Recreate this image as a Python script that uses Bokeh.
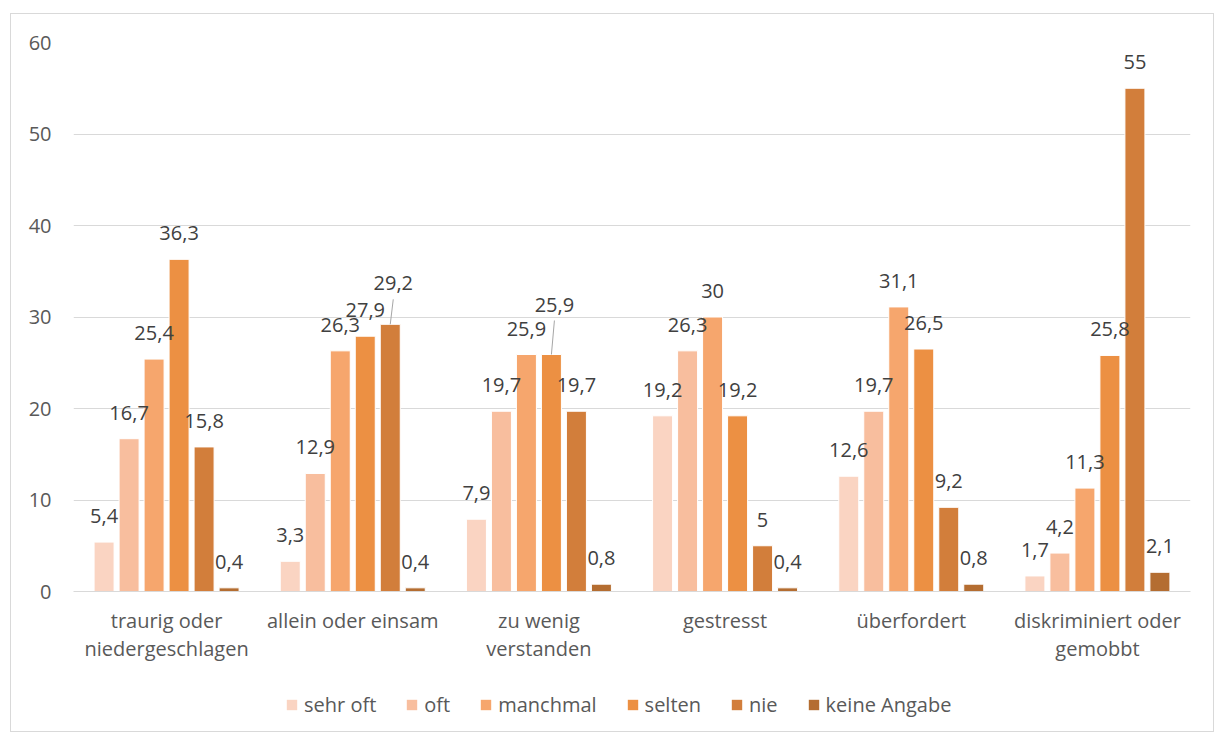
from bokeh.plotting import figure
from bokeh.layouts import column
from bokeh.models import FixedTicker, Legend, LegendItem, Range1d, ColumnDataSource
from bokeh.core.properties import value
from bokeh.embed import file_html
from bokeh.resources import INLINE

categories = ["traurig oder\nniedergeschlagen", "allein oder einsam", "zu wenig\nverstanden",
              "gestresst", "überfordert", "diskriminiert oder\ngemobbt"]
series = ["sehr oft", "oft", "manchmal", "selten", "nie", "keine Angabe"]
sehr_oft = [5.4, 3.3, 7.9, 19.2, 12.6, 1.7]
oft = [16.7, 12.9, 19.7, 26.3, 19.7, 4.2]
manchmal = [25.4, 26.3, 25.9, 30, 31.1, 11.3]
selten = [36.3, 27.9, 25.9, 19.2, 26.5, 25.8]
nie = [15.8, 29.2, 19.7, 5, 9.2, 55]
keine_angabe = [0.4, 0.4, 0.8, 0.4, 0.8, 2.1]
y_ticks = [0, 10, 20, 30, 40, 50, 60]

values = [sehr_oft, oft, manchmal, selten, nie, keine_angabe]
colors = ["#FAD4C2", "#F8BE9E", "#F6A66D", "#EC9043", "#D27E3B", "#B46D31"]

FONT = "Open Sans"
FS = "20px"
LEFT, RIGHT, TOP, BOTTOM = 62, 23, 28, 90
FW, FH = 1117, 549
px_per_unit = FH / 60.0
group_px = FW / 6.0

p = figure(frame_width=FW, frame_height=FH, output_backend="svg", toolbar_location=None,
           x_range=Range1d(0, 6), y_range=Range1d(0, 60),
           min_border_left=LEFT, min_border_right=RIGHT,
           min_border_top=TOP, min_border_bottom=BOTTOM)
p.outline_line_color = None
p.background_fill_color = "white"
p.border_fill_color = "white"

# grid
p.xgrid.grid_line_color = None
p.ygrid.grid_line_color = "#D9D9D9"
p.ygrid.grid_line_width = 1
p.ygrid.ticker = FixedTicker(ticks=y_ticks)

# y axis
p.yaxis.ticker = FixedTicker(ticks=y_ticks)
p.yaxis.axis_line_color = None
p.yaxis.major_tick_line_color = None
p.yaxis.minor_tick_line_color = None
p.yaxis.major_label_text_font = FONT
p.yaxis.major_label_text_font_size = FS
p.yaxis.major_label_text_color = "#595959"
p.yaxis.major_label_standoff = 16

# x axis
centers = [i + 0.5 for i in range(len(categories))]
p.xaxis.ticker = FixedTicker(ticks=centers)
p.xaxis.major_label_overrides = {c: lab for c, lab in zip(centers, categories)}
p.xaxis.axis_line_color = "#D9D9D9"
p.xaxis.axis_line_width = 1
p.xaxis.major_tick_line_color = None
p.xaxis.minor_tick_line_color = None
p.xaxis.major_label_text_font = FONT
p.xaxis.major_label_text_font_size = FS
p.xaxis.major_label_text_color = "#595959"
p.xaxis.major_label_text_line_height = 1.05
p.xaxis.major_label_standoff = 9

step = 25.0 / group_px
bar_w = 20.0 / group_px

# special label displacements (px): (series index, group index) -> (dx, raise)
label_shift = {(4, 1): (3, 15), (3, 2): (3, 24)}

xs_all = []
for k, (name, vals, col) in enumerate(zip(series, values, colors)):
    xs = [c + (k - 2.5) * step for c in centers]
    xs_all.append(xs)
    src = ColumnDataSource(dict(x=xs, top=vals))
    p.vbar(x="x", top="top", width=bar_w, bottom=0, source=src,
           fill_color=col, line_color="white", line_width=1)

for k, vals in enumerate(values):
    xs = xs_all[k]
    labels = [f"{v:g}".replace(".", ",") for v in vals]
    dx = [label_shift.get((k, g), (0, 0))[0] for g in range(len(vals))]
    dy = [-26 - label_shift.get((k, g), (0, 0))[1] for g in range(len(vals))]
    lsrc = ColumnDataSource(dict(x=xs, y=vals, t=labels, dx=dx, dy=dy))
    p.text(x="x", y="y", text="t", x_offset="dx", y_offset="dy", source=lsrc,
           text_font=value(FONT), text_font_size=FS, text_color="#404040",
           text_align="center", text_baseline="middle")

# leader lines for displaced labels
for (k, g), (sdx, rise) in label_shift.items():
    x0 = xs_all[k][g]
    y0 = values[k][g]
    x1 = x0 + sdx / group_px
    y1 = y0 + (26 + rise - 16) / px_per_unit
    p.segment(x0=[x0], y0=[y0], x1=[x1], y1=[y1], line_color="#A6A6A6", line_width=1)

# legend strip below the chart
LH = 50
lg = figure(frame_width=FW, frame_height=LH, output_backend="svg", toolbar_location=None,
            x_range=Range1d(0, 1), y_range=Range1d(0, 1),
            min_border_left=LEFT, min_border_right=RIGHT, min_border_top=0, min_border_bottom=0)
lg.axis.visible = False
lg.grid.visible = False
lg.outline_line_color = None
lg.background_fill_color = "white"
lg.border_fill_color = "white"
items = []
for name, col in zip(series, colors):
    r = lg.vbar(x=[0.5], top=[0], bottom=[0], width=0.0, fill_color=col, line_color=None)
    items.append(LegendItem(label=name, renderers=[r]))
legend = Legend(items=items, orientation="horizontal", location=(212, 13),
                label_text_font=FONT, label_text_font_size=FS, label_text_color="#595959",
                glyph_width=13, glyph_height=13, label_standoff=6, spacing=29,
                border_line_color=None, background_fill_alpha=0, padding=0, margin=0)
lg.add_layout(legend, "center")

layout = column(p, lg, spacing=0, margin=(13, 0, 0, 10))
layout.styles = {"border": "1px solid #D9D9D9"}

open("out.html", "w").write(file_html(layout, INLINE))
